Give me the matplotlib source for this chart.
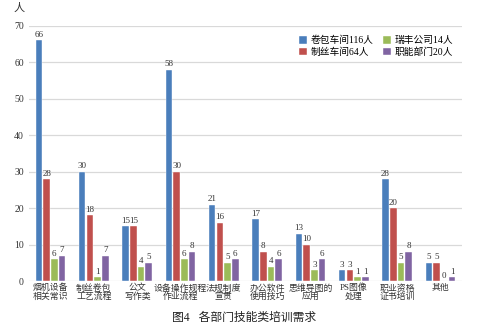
import numpy as np
import matplotlib.pyplot as plt

plt.rcParams['font.family'] = ['Liberation Serif', 'Noto Sans CJK SC']

categories = ['烟机设备\n相关常识', '制丝卷包\n工艺流程', '公文\n写作类', '设备操作规程\n作业流程',
              '法规制度\n宣贯', '办公软件\n使用技巧', '思维导图的\n应用', 'PS图像\n处理',
              '职业资格\n证书培训', '其他']
series_names = ['卷包车间116人', '制丝车间64人', '瑞丰公司14人', '职能部门20人']
juanbao = [66, 30, 15, 58, 21, 17, 13, 3, 28, 5]
zhisi = [28, 18, 15, 30, 16, 8, 10, 3, 20, 5]
ruifeng = [6, 1, 4, 6, 5, 4, 3, 1, 5, 0]
zhineng = [7, 7, 5, 8, 6, 6, 6, 1, 8, 1]
y_ticks = [0, 10, 20, 30, 40, 50, 60, 70]

colors = ['#4a7ebb', '#c0504d', '#9bbb59', '#8064a2']

fig = plt.figure(figsize=(4.88, 3.28), dpi=100)
ax = fig.add_axes([0.059, 0.143, 0.888, 0.778])

x = np.arange(len(categories))
step = 0.178
width = 0.15
for i, (vals, name, c) in enumerate(zip([juanbao, zhisi, ruifeng, zhineng], series_names, colors)):
    pos = x + (i - 1.5) * step
    ax.bar(pos, vals, width, color=c, label=name, edgecolor='white', linewidth=0.3, zorder=3)
    for p, v in zip(pos, vals):
        ax.text(p, v + 0.4, str(v), ha='center', va='bottom', fontsize=6.5, color='#333333')

ax.set_xlim(-0.5, len(categories) - 0.5)
ax.set_ylim(0, 70)
ax.set_yticks(y_ticks)
ax.set_xticks(x)
ax.set_xticklabels(categories, fontsize=6.4, linespacing=1.0)
ax.tick_params(axis='both', length=0, labelsize=7, colors='#333333')
ax.tick_params(axis='x', labelsize=6.4, pad=2)
ax.grid(axis='y', color='#d9d9d9', linewidth=0.9, zorder=0)
for s in ax.spines.values():
    s.set_visible(False)

ax.text(-0.022, 1.05, '人', transform=ax.transAxes, fontsize=8, ha='center', va='bottom', color='#333333')

ax.legend(ncol=2, loc='upper right', bbox_to_anchor=(1.0, 0.995), frameon=False, fontsize=7,
          handlelength=0.8, handleheight=0.8, handletextpad=0.4, columnspacing=1.0, labelspacing=0.2)

fig.text(0.50, 0.03, '图4   各部门技能类培训需求', ha='center', va='center', fontsize=8.5, color='#222222')

fig.savefig('out.png', dpi=100, facecolor='white')
